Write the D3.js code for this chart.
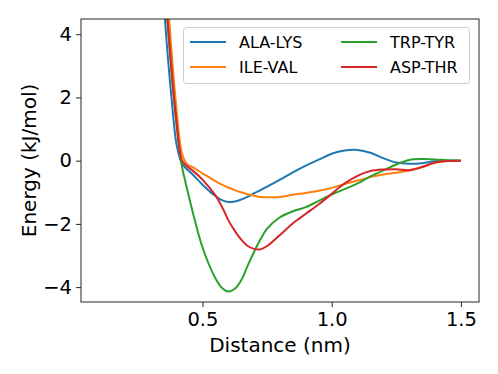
<!DOCTYPE html>
<html>
<head>
<meta charset="utf-8">
<script src="https://cdn.jsdelivr.net/npm/d3@7"></script>
<style>
  html, body { margin: 0; padding: 0; background: #fff; }
  svg { display: block; font-family: "DejaVu Sans", sans-serif; }
</style>
</head>
<body>
<svg id="chart" width="498" height="374"></svg>
<script>
// ---- data ----
const distance = [0.34, 0.36, 0.38, 0.40, 0.42, 0.44, 0.46, 0.50, 0.55, 0.575, 0.60, 0.625, 0.65, 0.675, 0.70, 0.725, 0.75, 0.80, 0.85, 0.90, 0.95, 1.00, 1.05, 1.10, 1.15, 1.20, 1.25, 1.30, 1.35, 1.40, 1.45, 1.50];
const alaLys = [6.2, 3.9, 2.0, 0.5, -0.08, -0.27, -0.42, -0.76, -1.12, -1.25, -1.31, -1.29, -1.23, -1.14, -1.03, -0.93, -0.82, -0.60, -0.37, -0.16, 0.03, 0.22, 0.32, 0.34, 0.25, 0.08, -0.06, -0.10, -0.08, -0.02, 0.0, 0.0];
const ileVal = [8.5, 5.7, 3.5, 1.6, 0.25, -0.11, -0.20, -0.40, -0.65, -0.76, -0.85, -0.93, -1.00, -1.06, -1.11, -1.15, -1.16, -1.15, -1.08, -1.02, -0.95, -0.86, -0.74, -0.63, -0.52, -0.44, -0.38, -0.31, -0.20, -0.07, -0.01, 0.0];
const trpTyr = [7.3, 4.8, 2.8, 1.1, -0.15, -0.88, -1.55, -2.74, -3.72, -4.02, -4.14, -4.05, -3.78, -3.32, -2.88, -2.48, -2.15, -1.79, -1.60, -1.47, -1.27, -1.07, -0.90, -0.72, -0.50, -0.31, -0.12, 0.02, 0.05, 0.04, 0.01, 0.0];
const aspThr = [7.5, 5.0, 2.9, 1.2, 0.02, -0.18, -0.30, -0.60, -1.10, -1.45, -1.88, -2.22, -2.50, -2.70, -2.79, -2.80, -2.70, -2.35, -1.98, -1.68, -1.38, -1.05, -0.72, -0.48, -0.33, -0.28, -0.27, -0.30, -0.20, -0.06, -0.01, 0.0];
const seriesNames = ["ALA-LYS", "ILE-VAL", "TRP-TYR", "ASP-THR"];
const seriesColors = ["#1f77b4", "#ff7f0e", "#2ca02c", "#d62728"];
const xTicks = [0.5, 1.0, 1.5];
const yTicks = [-4, -2, 0, 2, 4];

const seriesValues = [alaLys, ileVal, trpTyr, aspThr];

// ---- layout ----
const svg = d3.select("#chart");
const mLeft = 81, mRight = 479, mTop = 19, mBottom = 302;

const x = d3.scaleLinear().domain([0.03, 1.57]).range([mLeft, mRight]);
const y = d3.scaleLinear().domain([-4.47, 4.48]).range([mBottom, mTop]);

svg.append("defs").append("clipPath").attr("id", "clip")
  .append("rect").attr("x", mLeft).attr("y", mTop)
  .attr("width", mRight - mLeft).attr("height", mBottom - mTop);

const line = d3.line()
  .x(d => x(d[0]))
  .y(d => y(d[1]))
  .curve(d3.curveCatmullRom.alpha(0.5));

const plot = svg.append("g").attr("clip-path", "url(#clip)");
seriesValues.forEach((vals, i) => {
  plot.append("path")
    .datum(distance.map((d, j) => [d, vals[j]]))
    .attr("fill", "none")
    .attr("stroke", seriesColors[i])
    .attr("stroke-width", 2)
    .attr("stroke-linejoin", "round")
    .attr("d", line);
});

// axes
const xAxis = d3.axisBottom(x).tickValues(xTicks).tickFormat(d3.format(".1f")).tickSize(5).tickPadding(4);
const yAxis = d3.axisLeft(y).tickValues(yTicks).tickFormat(d => d < 0 ? "\u2212" + Math.abs(d) : d).tickSize(5).tickPadding(4);

const gx = svg.append("g").attr("transform", `translate(0,${mBottom})`).call(xAxis);
const gy = svg.append("g").attr("transform", `translate(${mLeft},0)`).call(yAxis);
[gx, gy].forEach(g => {
  g.select(".domain").remove();
  g.selectAll(".tick line").attr("stroke", "#262626").attr("stroke-width", 1);
  g.selectAll(".tick text").attr("fill", "#000").style("font-size", "19.5px").style("font-family", "DejaVu Sans");
});
gx.selectAll(".tick text").attr("dy", "0.75em");

// frame
svg.append("rect")
  .attr("x", mLeft).attr("y", mTop)
  .attr("width", mRight - mLeft).attr("height", mBottom - mTop)
  .attr("fill", "none").attr("stroke", "#262626").attr("stroke-width", 1);

// axis labels
svg.append("text")
  .attr("x", (mLeft + mRight) / 2).attr("y", 352)
  .attr("text-anchor", "middle")
  .style("font-size", "20px")
  .text("Distance (nm)");

svg.append("text")
  .attr("transform", `translate(36,${(mTop + mBottom) / 2}) rotate(-90)`)
  .attr("text-anchor", "middle")
  .style("font-size", "20px")
  .text("Energy (kJ/mol)");

// legend
const legend = svg.append("g");
legend.append("rect")
  .attr("x", 183.5).attr("y", 27.5)
  .attr("width", 286).attr("height", 56)
  .attr("rx", 3).attr("ry", 3)
  .attr("fill", "#fff").attr("fill-opacity", 0.8)
  .attr("stroke", "#cccccc").attr("stroke-width", 1);

const legendPos = [
  { lx: 190, tx: 239, cy: 42 },
  { lx: 190, tx: 239, cy: 67 },
  { lx: 341, tx: 390, cy: 42 },
  { lx: 341, tx: 390, cy: 67 }
];
seriesNames.forEach((name, i) => {
  const p = legendPos[i];
  legend.append("line")
    .attr("x1", p.lx).attr("x2", p.lx + 36)
    .attr("y1", p.cy).attr("y2", p.cy)
    .attr("stroke", seriesColors[i]).attr("stroke-width", 2);
  legend.append("text")
    .attr("x", p.tx).attr("y", p.cy)
    .attr("dy", "0.36em")
    .style("font-size", "16px")
    .text(name);
});
</script>
</body>
</html>
